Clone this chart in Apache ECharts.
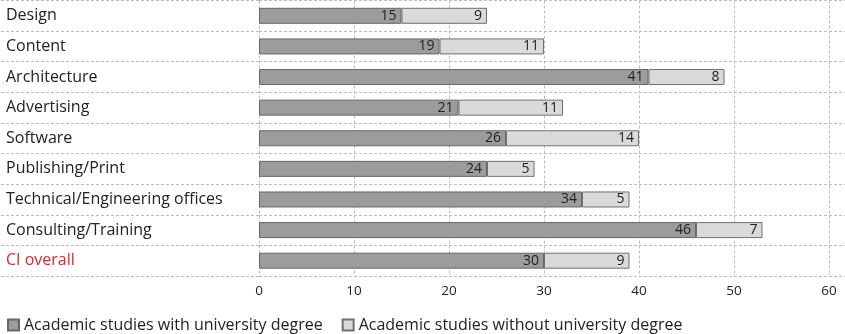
<!DOCTYPE html>
<html>
<head>
<meta charset="utf-8">
<script src="https://cdn.jsdelivr.net/npm/echarts@6/dist/echarts.min.js"></script>
<style>
  html, body { margin: 0; padding: 0; background: #fff; }
  #chart { width: 845px; height: 334px; }
</style>
</head>
<body>
<div id="chart"></div>
<script>
// Sectors, top to bottom
const categories = [
  'Design', 'Content', 'Architecture', 'Advertising', 'Software',
  'Publishing/Print', 'Technical/Engineering offices', 'Consulting/Training', 'CI overall'
];
// Share (%) of each group per sector
const withDegree = [15, 19, 41, 21, 26, 24, 34, 46, 30];
const withoutDegree = [9, 11, 8, 11, 14, 5, 5, 7, 9];
const seriesNames = [
  'Academic studies with university degree',
  'Academic studies without university degree'
];
const xTicks = { min: 0, max: 60, interval: 10 };
const highlighted = 'CI overall';

const FONT = '"Open Sans", Roboto, sans-serif';
const TEXT = '#222';
const GRIDLINE = { color: '#bdbdbd', type: [3, 2], width: 1 };

const chart = echarts.init(document.getElementById('chart'), null, { renderer: 'canvas' });

const barLabel = {
  show: true,
  position: 'insideRight',
  distance: 5,
  color: TEXT,
  fontFamily: FONT,
  fontSize: 14
};

chart.setOption({
  animation: false,
  textStyle: { fontFamily: FONT },
  grid: { left: 259, right: 16, top: 0.5, bottom: 58, containLabel: false },
  xAxis: {
    type: 'value',
    min: xTicks.min,
    max: xTicks.max,
    interval: xTicks.interval,
    axisLine: { show: false },
    axisTick: { show: false },
    axisLabel: { color: TEXT, fontSize: 13.5, fontFamily: FONT, margin: 8 },
    splitLine: { show: true, lineStyle: GRIDLINE }
  },
  yAxis: [
    {
      type: 'category',
      data: categories,
      inverse: true,
      axisLine: { show: false },
      axisTick: { show: true, length: 259, lineStyle: GRIDLINE },
      splitLine: { show: true, lineStyle: GRIDLINE },
      axisLabel: {
        align: 'left',
        margin: 253,
        fontFamily: FONT,
        fontSize: 16,
        color: TEXT,
        formatter: v => v === highlighted ? '{hl|' + v + '}' : v,
        rich: { hl: { color: '#e3262b', fontSize: 16, fontFamily: FONT } }
      }
    },
    {
      type: 'category',
      data: categories,
      inverse: true,
      position: 'right',
      axisLine: { show: false },
      axisTick: { show: true, length: 16, lineStyle: GRIDLINE },
      splitLine: { show: false },
      axisLabel: { show: false }
    }
  ],
  legend: {
    left: 2,
    top: 312,
    icon: 'rect',
    itemWidth: 11,
    itemHeight: 11,
    itemGap: 19,
    textStyle: { color: TEXT, fontSize: 16, fontFamily: FONT },
    data: seriesNames
  },
  series: [
    {
      name: seriesNames[0],
      type: 'bar',
      stack: 'share',
      barWidth: 16,
      data: withDegree,
      itemStyle: { color: '#9c9c9c', borderColor: '#676767', borderWidth: 1 },
      label: barLabel
    },
    {
      name: seriesNames[1],
      type: 'bar',
      stack: 'share',
      barWidth: 16,
      data: withoutDegree,
      itemStyle: { color: '#dadada', borderColor: '#707070', borderWidth: 1 },
      label: barLabel
    }
  ]
});
</script>
</body>
</html>
